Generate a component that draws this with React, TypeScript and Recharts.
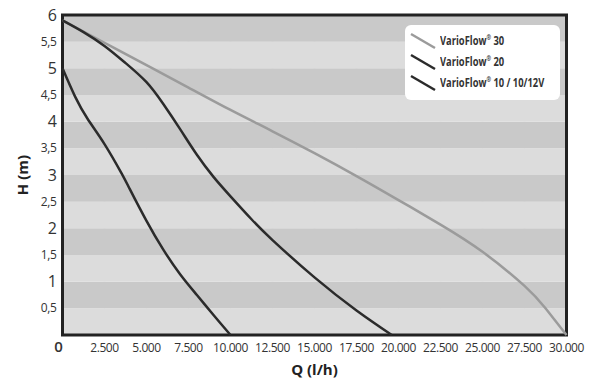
import { LineChart, Line, XAxis, YAxis, CartesianGrid, ReferenceArea } from 'recharts'

// pump curves, flow Q in l/h against head H in m
const vf30Q = [0, 2500, 5000, 7500, 10000, 12500, 15000, 17500, 20000, 22500, 25000, 27500, 28750, 30000]
const vf30H = [5.9, 5.48, 5.06, 4.64, 4.22, 3.82, 3.41, 2.98, 2.53, 2.07, 1.56, 0.92, 0.5, 0]

const vf20Q = [0, 1250, 2500, 3750, 5000, 6000, 7000, 8000, 9000, 10000, 11250, 12500, 15000, 17500, 19600]
const vf20H = [5.9, 5.68, 5.42, 5.1, 4.74, 4.33, 3.86, 3.38, 2.96, 2.6, 2.17, 1.78, 1.08, 0.46, 0]

const vf10Q = [0, 750, 1500, 2500, 3500, 4000, 5000, 6000, 7000, 8000, 9000, 10000]
const vf10H = [5.0, 4.47, 4.05, 3.58, 3.04, 2.74, 2.14, 1.6, 1.14, 0.75, 0.37, 0]

const seriesNames = ['VarioFlow® 30', 'VarioFlow® 20', 'VarioFlow® 10 / 10/12V']
const seriesColors = ['#9b9b9b', '#2b2b2b', '#2b2b2b']

const xTicks = [0, 2500, 5000, 7500, 10000, 12500, 15000, 17500, 20000, 22500, 25000, 27500, 30000]
const yTicks = [0.5, 1, 1.5, 2, 2.5, 3, 3.5, 4, 4.5, 5, 5.5, 6]
const bandEdges = [0, 0.5, 1, 1.5, 2, 2.5, 3, 3.5, 4, 4.5, 5, 5.5, 6]

const font = "'Open Sans', sans-serif"

const toRows = (qs: number[], hs: number[]) => qs.map((q, i) => ({ q, h: hs[i] }))
const seriesData = [toRows(vf30Q, vf30H), toRows(vf20Q, vf20H), toRows(vf10Q, vf10H)]

const fmtX = (v: number) => (v === 0 ? '0' : v.toLocaleString('de-DE'))

function XTick({ x, y, payload }: any) {
  const zero = payload.value === 0
  return (
    <text
      x={zero ? x - 4 : x}
      y={y + 9}
      textAnchor="middle"
      fontFamily={font}
      fontSize={zero ? 15 : 12}
      fontWeight={zero ? 600 : 400}
      letterSpacing={zero ? 0 : -0.4}
      fill="#333"
    >
      {fmtX(payload.value)}
    </text>
  )
}

function YTick({ x, y, payload }: any) {
  const whole = Number.isInteger(payload.value)
  return (
    <text
      x={x}
      y={y + (whole ? 5.5 : 4)}
      textAnchor="end"
      fontFamily={font}
      fontSize={whole ? 16 : 12}
      letterSpacing={-0.4}
      fill="#333"
    >
      {String(payload.value).replace('.', ',')}
    </text>
  )
}

function YLabel({ viewBox }: any) {
  const cy = viewBox.y + viewBox.height / 2
  return (
    <text
      x={22}
      y={cy}
      transform={`rotate(-90 22 ${cy})`}
      textAnchor="middle"
      dominantBaseline="central"
      fontFamily={font}
      fontWeight={700}
      fontSize={15}
      fill="#222"
    >
      H (m)
    </text>
  )
}

function Legendbox() {
  return (
    <div
      style={{
        position: 'absolute',
        left: 405,
        top: 25,
        width: 155,
        height: 75,
        background: '#fff',
        borderRadius: 6,
        fontFamily: font,
        fontWeight: 700,
        fontSize: 12,
        color: '#333',
        boxSizing: 'border-box',
        paddingTop: 5,
        whiteSpace: 'nowrap',
      }}
    >
      {seriesNames.map((name, i) => {
        const parts = name.split('®')
        return (
          <div key={name} style={{ display: 'flex', alignItems: 'center', height: 21 }}>
            <svg width={30} height={20} style={{ marginLeft: 5, flex: 'none' }}>
              <line x1={1} y1={3} x2={25} y2={17} stroke={seriesColors[i]} strokeWidth={2.5} />
            </svg>
            <span style={{ display: 'inline-block', transform: 'scaleX(0.78)', transformOrigin: 'left center' }}>
              {parts[0]}
              <sup style={{ fontSize: 7, lineHeight: 0 }}>®</sup>
              {parts[1]}
            </span>
          </div>
        )
      })}
    </div>
  )
}

export default function App() {
  return (
    <div style={{ position: 'relative', width: 600, height: 381, margin: '-8px 0 0 -8px' }}>
      <LineChart width={600} height={381} margin={{ top: 15, right: 33.5, left: 0, bottom: 0 }}>
        {bandEdges.slice(0, -1).map((lo, i) => (
          <ReferenceArea
            key={lo}
            x1={0}
            x2={30000}
            y1={lo}
            y2={bandEdges[i + 1]}
            fill={i % 2 === 0 ? '#dcdcdc' : '#c9c9c9'}
            fillOpacity={1}
            stroke="none"
            ifOverflow="visible"
          />
        ))}
        <CartesianGrid horizontal={false} stroke="#f3f3f3" strokeWidth={1.5} />
        <XAxis
          type="number"
          dataKey="q"
          domain={[0, 30000]}
          ticks={xTicks}
          tick={<XTick />}
          tickLine={false}
          axisLine={false}
          height={46}
          interval={0}
          label={{ value: 'Q (l/h)', position: 'insideBottom', offset: 6, fontFamily: font, fontWeight: 700, fontSize: 15, fill: '#222' }}
        />
        <YAxis
          type="number"
          domain={[0, 6]}
          ticks={yTicks}
          tick={<YTick />}
          tickLine={false}
          tickSize={0}
          tickMargin={6}
          axisLine={false}
          width={62.5}
          interval={0}
          label={<YLabel />}
        />
        {seriesData.map((rows, i) => (
          <Line
            key={seriesNames[i]}
            data={rows}
            dataKey="h"
            type="natural"
            stroke={seriesColors[i]}
            strokeWidth={2.5}
            dot={false}
            isAnimationActive={false}
          />
        ))}
        <ReferenceArea x1={0} x2={30000} y1={0} y2={6} fill="none" stroke="#222" strokeWidth={3} ifOverflow="visible" />
      </LineChart>
      <Legendbox />
    </div>
  )
}
